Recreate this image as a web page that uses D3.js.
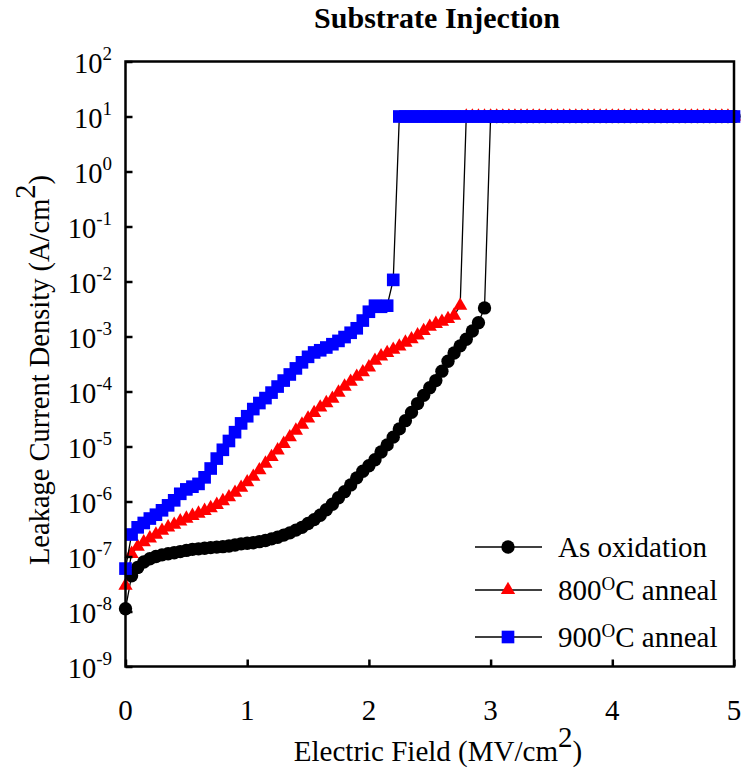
<!DOCTYPE html>
<html>
<head>
<meta charset="utf-8">
<script src="https://cdn.jsdelivr.net/npm/d3@7"></script>
<style>
  html, body { margin: 0; padding: 0; background: #fff; }
  svg { display: block; }
  text { font-family: "Liberation Serif", "Times New Roman", serif; fill: #000; }
</style>
</head>
<body>
<svg id="chart" width="742" height="778"></svg>
<script>
// ---------------- DATA ----------------
const fieldE = [0,0.05,0.1,0.15,0.2,0.25,0.3,0.35,0.4,0.45,0.5,0.55,0.6,0.65,0.7,0.75,0.8,0.85,0.9,0.95,
  1,1.05,1.1,1.15,1.2,1.25,1.3,1.35,1.4,1.45,1.5,1.55,1.6,1.65,1.7,1.75,1.8,1.85,1.9,1.95,
  2,2.05,2.1,2.15,2.2,2.25,2.3,2.35,2.4,2.45,2.5,2.55,2.6,2.65,2.7,2.75,2.8,2.85,2.9,2.95,
  3,3.05,3.1,3.15,3.2,3.25,3.3,3.35,3.4,3.45,3.5,3.55,3.6,3.65,3.7,3.75,3.8,3.85,3.9,3.95,
  4,4.05,4.1,4.15,4.2,4.25,4.3,4.35,4.4,4.45,4.5,4.55,4.6,4.65,4.7,4.75,4.8,4.85,4.9,4.95,5];

const asOxidation = [1.12e-8,4.47e-8,6.31e-8,7.94e-8,9.12e-8,1.0e-7,1.07e-7,1.12e-7,1.17e-7,1.23e-7,
  1.29e-7,1.35e-7,1.38e-7,1.41e-7,1.45e-7,1.48e-7,1.51e-7,1.55e-7,1.62e-7,1.70e-7,
  1.74e-7,1.78e-7,1.86e-7,1.95e-7,2.09e-7,2.24e-7,2.45e-7,2.69e-7,3.02e-7,3.39e-7,
  3.98e-7,4.68e-7,5.62e-7,7.08e-7,8.91e-7,1.17e-6,1.51e-6,2.0e-6,2.69e-6,3.55e-6,
  4.47e-6,5.75e-6,7.94e-6,1.07e-5,1.48e-5,2.09e-5,2.95e-5,4.17e-5,6.03e-5,8.51e-5,
  1.17e-4,1.58e-4,2.34e-4,3.55e-4,5.01e-4,6.76e-4,8.91e-4,1.26e-3,1.78e-3,3.31e-3,
  10,10,10,10,10,10,10,10,10,10,10,10,10,10,10,10,10,10,10,10,
  10,10,10,10,10,10,10,10,10,10,10,10,10,10,10,10,10,10,10,10,10];

const anneal800 = [2.95e-8,1.12e-7,1.51e-7,1.82e-7,2.14e-7,2.51e-7,2.95e-7,3.39e-7,3.80e-7,4.37e-7,
  4.90e-7,5.50e-7,6.03e-7,6.76e-7,7.59e-7,8.71e-7,1.02e-6,1.20e-6,1.45e-6,1.78e-6,
  2.24e-6,2.82e-6,3.72e-6,4.90e-6,6.46e-6,8.51e-6,1.12e-5,1.48e-5,1.95e-5,2.51e-5,
  3.24e-5,4.07e-5,5.13e-5,6.17e-5,7.41e-5,9.55e-5,1.23e-4,1.51e-4,1.86e-4,2.24e-4,
  2.75e-4,3.63e-4,4.37e-4,5.01e-4,5.75e-4,6.61e-4,7.76e-4,8.91e-4,1.05e-3,1.26e-3,
  1.51e-3,1.70e-3,1.86e-3,2.09e-3,2.40e-3,3.63e-3,
  10,10,10,10,10,10,10,10,10,10,10,10,10,10,10,10,10,10,10,10,10,10,10,10,10,
  10,10,10,10,10,10,10,10,10,10,10,10,10,10,10,10,10,10,10,10];

const anneal900 = [6.03e-8,2.51e-7,3.39e-7,4.07e-7,4.90e-7,5.75e-7,6.92e-7,8.51e-7,1.05e-6,1.38e-6,
  1.66e-6,1.86e-6,2.09e-6,2.75e-6,3.98e-6,6.03e-6,8.71e-6,1.26e-5,1.82e-5,2.63e-5,
  3.55e-5,4.79e-5,6.17e-5,7.59e-5,9.55e-5,1.23e-4,1.58e-4,2.04e-4,2.63e-4,3.39e-4,
  4.27e-4,5.13e-4,5.62e-4,6.31e-4,7.24e-4,8.32e-4,9.77e-4,1.17e-3,1.41e-3,1.95e-3,
  2.82e-3,3.63e-3,3.47e-3,3.63e-3,1.07e-2,
  10,10,10,10,10,10,10,10,10,10,10,10,10,10,10,10,10,10,10,10,10,10,10,10,10,10,10,10,
  10,10,10,10,10,10,10,10,10,10,10,10,10,10,10,10,10,10,10,10,10,10,10,10,10,10,10,10];

const seriesNames = ["As oxidation", "800", "900"];
const xTicks = [0, 1, 2, 3, 4, 5];
const yTickExps = [2, 1, 0, -1, -2, -3, -4, -5, -6, -7, -8, -9];

// ---------------- CHART ----------------
(function () {
const svg = d3.select("#chart");
const pLeft = 125.5, pRight = 734, pTop = 61.5, pBottom = 666.5;

const x = d3.scaleLinear().domain([0, 5]).range([pLeft, pRight]);
const y = d3.scaleLog().domain([1e-9, 1e2]).range([pBottom, pTop]);

const series = [
  { name: seriesNames[0], values: asOxidation, color: "#000000", symbol: d3.symbolCircle, size: 140 },
  { name: seriesNames[1], values: anneal800, color: "#ff0000", symbol: d3.symbolTriangle, size: 88 },
  { name: seriesNames[2], values: anneal900, color: "#0000ff", symbol: d3.symbolSquare, size: 160 }
];

const plotG = svg.append("g");
const line = d3.line().x(d => x(d[0])).y(d => y(d[1]));

series.forEach(s => {
  const pts = s.values.map((v, i) => [fieldE[i], v]);
  const g = plotG.append("g");
  g.append("path").datum(pts)
    .attr("d", line).attr("fill", "none")
    .attr("stroke", "#000").attr("stroke-width", 1.3);
  g.selectAll("path.m").data(pts).enter().append("path")
    .attr("class", "m")
    .attr("d", d3.symbol().type(s.symbol).size(s.size))
    .attr("transform", d => `translate(${x(d[0])},${y(d[1])})`)
    .attr("fill", s.color);
});

// axes (ticks inward)
const yAxis = d3.axisLeft(y)
  .tickValues(yTickExps.map(e => Math.pow(10, e)))
  .tickSizeInner(-7).tickSizeOuter(0).tickFormat("");
const yg = svg.append("g").attr("transform", `translate(${pLeft},0)`).call(yAxis);
yg.selectAll("line").attr("stroke", "#000").attr("stroke-width", 2.5);
yg.select(".domain").remove();

const xAxis = d3.axisBottom(x)
  .tickValues(xTicks).tickSizeInner(-7).tickSizeOuter(0).tickFormat("");
const xg = svg.append("g").attr("transform", `translate(0,${pBottom})`).call(xAxis);
xg.selectAll("line").attr("stroke", "#000").attr("stroke-width", 2.5);
xg.select(".domain").remove();

// frame
svg.append("rect")
  .attr("x", pLeft).attr("y", pTop)
  .attr("width", pRight - pLeft).attr("height", pBottom - pTop)
  .attr("fill", "none").attr("stroke", "#000").attr("stroke-width", 2.5);

// y tick labels
yTickExps.forEach(e => {
  const t = svg.append("text")
    .attr("x", 112).attr("y", y(Math.pow(10, e)) + 11)
    .attr("text-anchor", "end")
    .style("font-size", "28.5px");
  t.append("tspan").text("10");
  t.append("tspan").attr("dy", -13).style("font-size", "19px").text(String(e));
});

// x tick labels
xTicks.forEach(v => {
  svg.append("text")
    .attr("x", x(v)).attr("y", 720)
    .attr("text-anchor", "middle")
    .style("font-size", "29px")
    .text(v);
});

// title
svg.append("text")
  .attr("x", 437).attr("y", 28)
  .attr("text-anchor", "middle")
  .style("font-size", "30px").style("font-weight", "bold")
  .text("Substrate Injection");

// x axis title
const xt = svg.append("text")
  .attr("x", 438).attr("y", 761)
  .attr("text-anchor", "middle")
  .style("font-size", "29px");
xt.append("tspan").text("Electric Field (MV/cm");
xt.append("tspan").attr("dy", -14).text("2");
xt.append("tspan").attr("dy", 14).text(")");

// y axis title
const yt = svg.append("text")
  .attr("transform", "translate(49,370) rotate(-90)")
  .attr("text-anchor", "middle")
  .style("font-size", "28.5px");
yt.append("tspan").text("Leakage Current Density (A/cm");
yt.append("tspan").attr("dy", -14).text("2");
yt.append("tspan").attr("dy", 14).text(")");

// legend
const legendRows = [
  { s: series[0], y: 547, label: ["As oxidation"] },
  { s: series[1], y: 590, label: [seriesNames[1], "O", "C anneal"] },
  { s: series[2], y: 637, label: [seriesNames[2], "O", "C anneal"] }
];
legendRows.forEach(r => {
  svg.append("line")
    .attr("x1", 475).attr("x2", 542).attr("y1", r.y).attr("y2", r.y)
    .attr("stroke", "#000").attr("stroke-width", 1.3);
  svg.append("path")
    .attr("d", d3.symbol().type(r.s.symbol).size(r.s.size))
    .attr("transform", `translate(508,${r.y})`)
    .attr("fill", r.s.color);
  const t = svg.append("text")
    .attr("x", 558).attr("y", r.y + 10)
    .style("font-size", "29px");
  if (r.label.length === 1) {
    t.text(r.label[0]);
  } else {
    t.append("tspan").text(r.label[0]);
    t.append("tspan").attr("dy", -10).style("font-size", "19px").text(r.label[1]);
    t.append("tspan").attr("dy", 10).text(r.label[2]);
  }
});
})();
</script>
</body>
</html>
